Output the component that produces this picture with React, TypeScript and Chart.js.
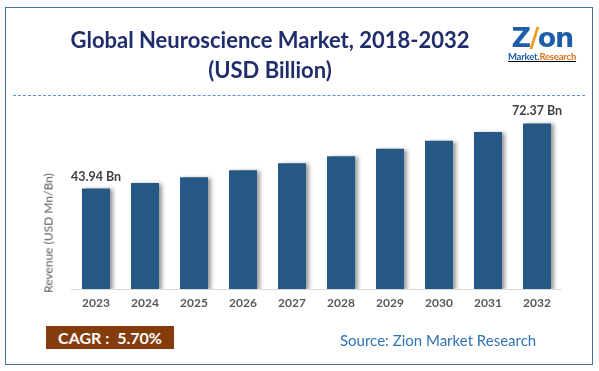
import React, { useEffect, useRef } from "react";
import { Chart, registerables } from "chart.js";

Chart.register(...registerables);

const categories = ["2023", "2024", "2025", "2026", "2027", "2028", "2029", "2030", "2031", "2032"];
const revenue = [43.94, 46.3, 48.9, 51.9, 55.0, 58.0, 61.3, 64.8, 68.6, 72.37];
const barLabels = ["43.94 Bn", "", "", "", "", "", "", "", "", "72.37 Bn"];
const yMax = 80;

const FONT = "Lato, 'Open Sans', sans-serif";

const shadowPlugin = {
  id: "barShadow",
  beforeDatasetsDraw(chart: any) {
    const ctx = chart.ctx;
    ctx.save();
    ctx.shadowColor = "rgba(0,0,0,0.4)";
    ctx.shadowBlur = 4;
    ctx.shadowOffsetX = 3;
    ctx.shadowOffsetY = 1;
  },
  afterDatasetsDraw(chart: any) {
    chart.ctx.restore();
  },
};

const labelPlugin = {
  id: "barLabels",
  afterDraw(chart: any) {
    const ctx = chart.ctx;
    const meta = chart.getDatasetMeta(0);
    ctx.save();
    ctx.font = `bold 12.5px ${FONT}`;
    ctx.fillStyle = "#404040";
    ctx.textAlign = "center";
    ctx.textBaseline = "middle";
    meta.data.forEach((bar: any, i: number) => {
      const t = barLabels[i];
      if (t) ctx.fillText(t, bar.x, bar.y - 12);
    });
    ctx.restore();
  },
};

export default function App() {
  const ref = useRef<HTMLCanvasElement>(null);
  useEffect(() => {
    document.body.style.margin = "0";
    const chart = new Chart(ref.current!, {
      type: "bar",
      data: {
        labels: categories,
        datasets: [
          {
            data: revenue,
            backgroundColor: "#265886",
            borderWidth: 0,
            barPercentage: 0.571,
            categoryPercentage: 1,
          },
        ],
      },
      options: {
        animation: false,
        responsive: false,
        maintainAspectRatio: false,
        events: [],
        layout: { padding: { left: 71.5, right: 37.5, top: 106, bottom: 54 } },
        plugins: { legend: { display: false }, tooltip: { enabled: false }, title: { display: false } },
        scales: {
          x: {
            grid: { display: false, drawTicks: false },
            border: { display: true, color: "#d9d9d9", width: 1 },
            ticks: { color: "#595959", font: { family: FONT, size: 12, weight: "bold" }, padding: 6.8 },
          },
          y: { display: false, min: 0, max: yMax },
        },
      },
      plugins: [shadowPlugin, labelPlugin],
    });
    return () => chart.destroy();
  }, []);

  return (
    <div style={{ position: "absolute", left: 0, top: 0, width: 599, height: 371, background: "#fff", fontFamily: FONT, overflow: "hidden" }}>
      <div style={{ position: "absolute", left: 5, top: 7, width: 586, height: 356, border: "1.5px solid #4472a4" }} />
      <canvas ref={ref} width={599} height={371} style={{ position: "absolute", left: 0, top: 0 }} />
      <div style={{ position: "absolute", left: 13, top: 95, width: 572, borderTop: "1px dashed #5b8fd6" }} />
      <div style={{ position: "absolute", left: 20, top: 25, width: 500, textAlign: "center", color: "#1f2d6c", fontWeight: "bold", fontSize: 22, lineHeight: "30px" }}>
        <div>Global Neuroscience Market, 2018-2032</div>
        <div>(USD Billion)</div>
      </div>
      <div style={{ position: "absolute", left: 503, top: 24, width: 78, textAlign: "center" }}>
        <div style={{ fontFamily: "'DejaVu Sans', sans-serif", fontWeight: "bold", fontSize: 27, lineHeight: "28px", color: "#1e5ea8", letterSpacing: -1.5 }}>
          <span style={{ color: "#1e5ea8" }}>Z</span>
          <span style={{ color: "#f0a020" }}>/</span>
          <span>on</span>
        </div>
        <div style={{ fontWeight: "bold", fontSize: 9.5, lineHeight: "10px", textDecoration: "underline", letterSpacing: -0.2 }}>
          <span style={{ color: "#1e5ea8" }}>Market.</span>
          <span style={{ color: "#d9731a" }}>Research</span>
        </div>
      </div>
      <div style={{ position: "absolute", left: 48, top: 233, transform: "translate(-50%, -50%) rotate(-90deg)", whiteSpace: "nowrap", fontSize: 12, color: "#595959" }}>
        Revenue (USD Mn/Bn)
      </div>
      <div style={{ position: "absolute", left: 46, top: 326, width: 128, height: 23, background: "#843c0c", color: "#fff", fontWeight: "bold", fontSize: 16, lineHeight: "23px", textAlign: "center" }}>
        CAGR :&nbsp; 5.70%
      </div>
      <div style={{ position: "absolute", left: 340, top: 331, fontSize: 15, color: "#2e74b5", whiteSpace: "nowrap" }}>
        Source: Zion Market Research
      </div>
    </div>
  );
}
